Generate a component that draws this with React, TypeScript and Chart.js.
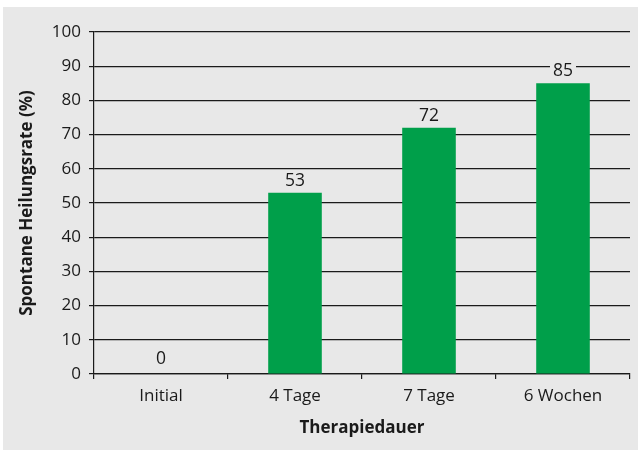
import React, { useEffect, useRef } from "react";
import { Chart, registerables } from "chart.js";

Chart.register(...registerables);

const categories = ["Initial", "4 Tage", "7 Tage", "6 Wochen"];
const values = [0, 53, 72, 85];
const yTitle = "Spontane Heilungsrate (%)";
const xTitle = "Therapiedauer";

const BG = "#e8e8e8";
const GREEN = "#009f4a";
const INK = "#1a1a1a";
const FONT = "'Open Sans', sans-serif";

const labelPlugin = {
  id: "valueLabels",
  afterDatasetsDraw(chart: any) {
    const ctx = chart.ctx;
    const meta = chart.getDatasetMeta(0);
    ctx.save();
    ctx.font = `17.5px ${FONT}`;
    ctx.textAlign = "center";
    ctx.textBaseline = "alphabetic";
    meta.data.forEach((bar: any, i: number) => {
      const v = values[i];
      const txt = String(v);
      const gap = v === 0 ? 10 : 7;
      const y = bar.y - gap;
      const w = ctx.measureText(txt).width;
      ctx.fillStyle = BG;
      ctx.fillRect(bar.x - w / 2 - 3, y - 15, w + 6, 16);
      ctx.fillStyle = INK;
      ctx.fillText(txt, bar.x, y);
    });
    ctx.restore();
  },
};

export default function App() {
  const ref = useRef<HTMLCanvasElement>(null);
  useEffect(() => {
    document.body.style.margin = "0";
    const chart = new Chart(ref.current!, {
      type: "bar",
      data: {
        labels: categories,
        datasets: [
          {
            data: values,
            backgroundColor: GREEN,
            borderWidth: 0,
            barPercentage: 0.4,
            categoryPercentage: 1,
          },
        ],
      },
      options: {
        animation: false,
        responsive: false,
        devicePixelRatio: 1,
        layout: { padding: { left: 0, top: 25, right: 8, bottom: 0 } },
        plugins: { legend: { display: false }, tooltip: { enabled: false } },
        scales: {
          x: {
            afterFit(scale: any) {
              scale.height = 76;
            },
            grid: {
              display: true,
              drawOnChartArea: false,
              drawTicks: true,
              offset: true,
              tickLength: 5,
              color: INK,
              lineWidth: 1.2,
            },
            border: { display: true, color: INK, width: 1.2 },
            ticks: {
              color: INK,
              font: { family: FONT, size: 17 },
              padding: 7,
              maxRotation: 0,
            },
            title: {
              display: true,
              text: xTitle,
              color: INK,
              font: { family: FONT, size: 17, weight: "bold" },
              padding: { top: 0, bottom: 12 },
            },
          },
          y: {
            min: 0,
            max: 100,
            afterFit(scale: any) {
              scale.width = 91;
            },
            grid: {
              color: INK,
              lineWidth: 1.2,
              tickLength: 5,
            },
            border: { display: true, color: INK, width: 1.2 },
            ticks: {
              stepSize: 10,
              color: INK,
              font: { family: FONT, size: 17 },
              padding: 8,
            },
            title: {
              display: true,
              text: yTitle,
              color: INK,
              font: { family: FONT, size: 17, weight: "bold" },
              padding: { top: 14, bottom: 0 },
            },
          },
        },
      },
      plugins: [labelPlugin],
    });
    return () => chart.destroy();
  }, []);

  return (
    <div style={{ position: "relative", width: 638, height: 451, background: "#fff" }}>
      <div
        style={{
          position: "absolute",
          left: 3,
          top: 7,
          width: 635,
          height: 443,
          background: BG,
        }}
      >
        <canvas ref={ref} width={635} height={443} style={{ display: "block" }} />
      </div>
    </div>
  );
}
